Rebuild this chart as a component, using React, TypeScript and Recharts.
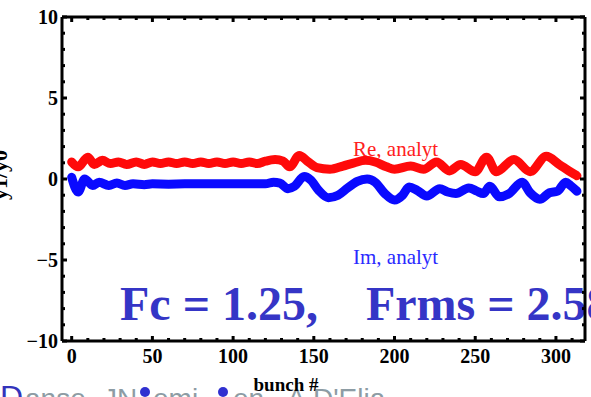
import { LineChart, Line, XAxis, YAxis } from "recharts";

// Re, analyt
const reBunch = [0, 4, 10, 14, 19, 24, 29, 34, 40, 45, 50, 55, 60, 65, 70, 75, 80, 85, 90, 95, 100, 105, 110, 115, 120, 126, 131, 135, 141, 146, 152, 160, 168, 175, 182, 188, 195, 200, 210, 218, 226, 234, 241, 250, 257, 263, 274, 284, 294, 302, 308, 313];
const reValue = [1.05, 0.75, 1.35, 0.9, 1.15, 0.95, 1.05, 0.9, 1.05, 0.9, 1.05, 0.95, 1.05, 0.95, 1.05, 0.95, 1.05, 0.95, 1.05, 0.95, 1.05, 0.95, 1.05, 0.95, 1.1, 1.2, 1.1, 0.75, 1.45, 1.1, 0.7, 0.6, 0.8, 1.0, 1.15, 1.05, 0.75, 0.6, 0.8, 0.6, 1.05, 0.5, 0.9, 0.45, 1.35, 0.45, 1.2, 0.45, 1.4, 0.9, 0.5, 0.2];

// Im, analyt
const imBunch = [0, 4, 8, 13, 17, 23, 28, 33, 38, 45, 50, 60, 70, 80, 90, 100, 110, 120, 125, 129, 134, 138, 144, 148, 153, 159, 165, 171, 177, 183, 188, 194, 200, 205, 209, 214, 220, 228, 233, 238, 246, 251, 255, 259, 265, 271, 279, 284, 290, 296, 301, 306, 309, 313];
const imValue = [0.1, -0.8, 0.0, -0.4, -0.2, -0.4, -0.25, -0.4, -0.3, -0.35, -0.3, -0.32, -0.3, -0.3, -0.3, -0.3, -0.3, -0.3, -0.2, -0.25, -0.6, -0.45, 0.15, -0.05, -0.7, -1.15, -1.0, -0.55, -0.15, 0.0, -0.2, -0.9, -1.3, -1.0, -0.5, -0.7, -1.05, -0.6, -0.8, -0.9, -0.55, -0.75, -0.9, -0.45, -1.1, -0.9, -0.2, -0.85, -1.25, -0.85, -0.75, -0.2, -0.4, -0.75];

const xTicks = [0, 10, 20, 30, 40, 50, 60, 70, 80, 90, 100, 110, 120, 130, 140, 150, 160, 170, 180, 190, 200, 210, 220, 230, 240, 250, 260, 270, 280, 290, 300, 310];
const yTicks = [-10, -9, -8, -7, -6, -5, -4, -3, -2, -1, 0, 1, 2, 3, 4, 5, 6, 7, 8, 9, 10];

const reData = reBunch.map((x, i) => ({ x, v: reValue[i] }));
const imData = imBunch.map((x, i) => ({ x, v: imValue[i] }));

const serif = "'Liberation Serif', 'Times New Roman', serif";
const tickFont = { fontFamily: serif, fontWeight: 700, fontSize: 20, fill: "#000" };
const fmt = (v: number) => (v < 0 ? `\u2212${-v}` : `${v}`);

// ── inward frame ticks ───────────────────────────────────────────────────────

function BottomTick({ x, y, payload }: any) {
  const major = payload.value % 50 === 0;
  return (
    <g>
      <line x1={x} x2={x} y1={y} y2={y - (major ? 5 : 3)} stroke="#000" strokeWidth={3} />
      {major && (
        <text x={x} y={y + 22} textAnchor="middle" style={tickFont}>{fmt(payload.value)}</text>
      )}
    </g>
  );
}

function TopTick({ x, y, payload }: any) {
  const major = payload.value % 50 === 0;
  return <line x1={x} x2={x} y1={y} y2={y + (major ? 5 : 3)} stroke="#000" strokeWidth={3} />;
}

function LeftTick({ x, y, payload }: any) {
  const major = payload.value % 5 === 0;
  return (
    <g>
      <line x1={x} x2={x + (major ? 5 : 3)} y1={y} y2={y} stroke="#000" strokeWidth={3} />
      {major && (
        <text x={x - 4} y={y + 7} textAnchor="end" style={tickFont}>{fmt(payload.value)}</text>
      )}
    </g>
  );
}

function RightTick({ x, y, payload }: any) {
  const major = payload.value % 5 === 0;
  return <line x1={x} x2={x - (major ? 5 : 3)} y1={y} y2={y} stroke="#000" strokeWidth={3} />;
}

const frame = { stroke: "#000", strokeWidth: 3 };

export default function App() {
  return (
    <div style={{ position: "fixed", left: 0, top: 0, width: 591, height: 397, overflow: "hidden", background: "#fff" }}>
      {/* slide text behind the plot, only its top shows */}
      <svg width={591} height={397} style={{ position: "absolute", left: 0, top: 0 }}>
        <text y={408} fontSize={28} fontFamily="'Liberation Sans', Arial, sans-serif" fill="#8d9ca4">
          <tspan x={0} fill="#3333bb" fontSize={32}>D</tspan>
          <tspan x={25}>anse,</tspan>
          <tspan x={103}>J</tspan>
          <tspan x={117}>N</tspan>
          <tspan x={153}>emi</tspan>
          <tspan x={233}>en,</tspan>
          <tspan x={287}>A</tspan>
          <tspan x={313}>D'Elia</tspan>
        </text>
        <circle cx={145} cy={392} r={5} fill="#3030d0" />
        <circle cx={223} cy={392} r={5} fill="#3030d0" />

        <text x={286} y={391} textAnchor="middle" style={{ ...tickFont, fontSize: 19 }}>bunch #</text>
        <text
          x={7}
          y={175}
          textAnchor="middle"
          transform="rotate(-90 7 175)"
          style={{ ...tickFont, fontSize: 22 }}
        >
          y1/y0
        </text>

        <text x={353} y={156} fontFamily={serif} fontSize={21} fill="#ff2020">Re, analyt</text>
        <text x={353} y={264} fontFamily={serif} fontSize={21} fill="#2a2aff">Im, analyt</text>

        <text x={120} y={320} fontFamily={serif} fontWeight={700} fontSize={48} fill="#3535c6" style={{ whiteSpace: "pre" }}>
          {"Fc = 1.25,    Frms = 2.58"}
        </text>
      </svg>

      <div style={{ position: "absolute", left: 0, top: 0 }}>
        <LineChart width={591} height={397} margin={{ top: 16, right: 5, bottom: 0, left: 0 }}>
          <XAxis
            dataKey="x"
            type="number"
            domain={[-6, 318]}
            ticks={xTicks}
            interval={0}
            allowDataOverflow
            height={56}
            tickSize={0}
            tickMargin={0}
            tickLine={false}
            axisLine={frame}
            tick={<BottomTick />}
          />
          <XAxis
            xAxisId="top"
            orientation="top"
            dataKey="x"
            type="number"
            domain={[-6, 318]}
            ticks={xTicks}
            interval={0}
            allowDataOverflow
            height={1}
            tickSize={0}
            tickMargin={0}
            tickLine={false}
            axisLine={frame}
            tick={<TopTick />}
          />
          <YAxis
            type="number"
            domain={[-10, 10]}
            ticks={yTicks}
            interval={0}
            allowDataOverflow
            width={62}
            tickSize={0}
            tickMargin={0}
            tickLine={false}
            axisLine={frame}
            tick={<LeftTick />}
          />
          <YAxis
            yAxisId="right"
            orientation="right"
            type="number"
            domain={[-10, 10]}
            ticks={yTicks}
            interval={0}
            allowDataOverflow
            width={1}
            tickSize={0}
            tickMargin={0}
            tickLine={false}
            axisLine={frame}
            tick={<RightTick />}
          />
          <Line
            data={reData}
            dataKey="v"
            type="monotone"
            stroke="#ff0a0a"
            strokeWidth={9}
            strokeLinecap="round"
            strokeLinejoin="round"
            dot={false}
            activeDot={false}
            isAnimationActive={false}
          />
          <Line
            data={imData}
            dataKey="v"
            type="monotone"
            stroke="#0a0aff"
            strokeWidth={9}
            strokeLinecap="round"
            strokeLinejoin="round"
            dot={false}
            activeDot={false}
            isAnimationActive={false}
          />
        </LineChart>
      </div>
    </div>
  );
}
